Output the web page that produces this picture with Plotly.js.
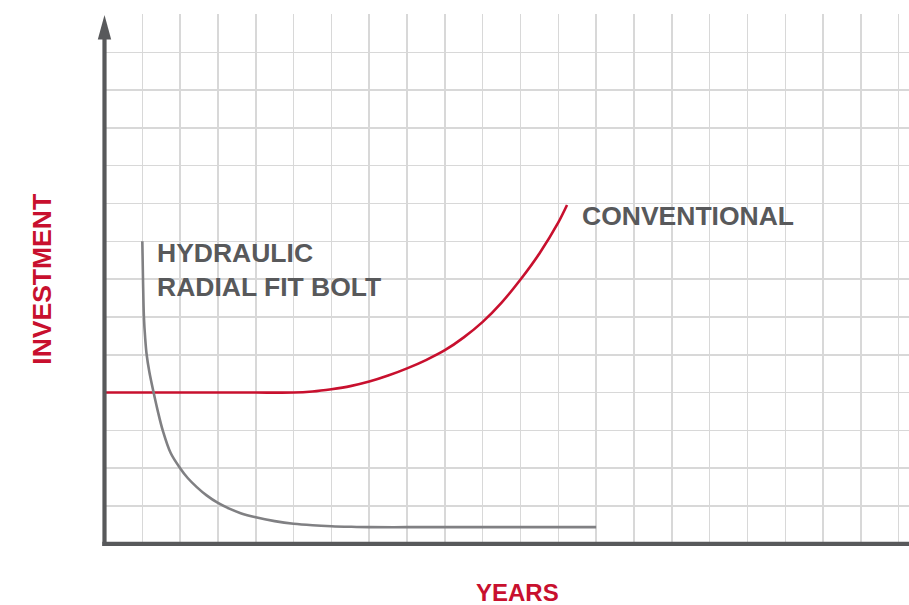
<!DOCTYPE html>
<html>
<head>
<meta charset="utf-8">
<script src="https://cdn.plot.ly/plotly-3.0.1.min.js"></script>
<style>html,body{margin:0;padding:0;background:#fff;}#chart{width:909px;height:605px;}</style>
</head>
<body>
<div id="chart"></div>
<script>
// Data (years vs. investment, arbitrary units)
const conventionalX = [0, 1, 2, 3, 4, 5, 5.5, 6, 6.5, 7, 7.5, 8, 8.5, 9, 9.5, 10, 10.5, 11, 11.5, 12, 12.23];
const conventionalY = [4, 4, 4, 4, 4, 4, 4.03, 4.09, 4.17, 4.29, 4.45, 4.64, 4.86, 5.12, 5.46, 5.87, 6.38, 6.99, 7.68, 8.5, 8.96];

const hydraulicX = [1, 1.018, 1.042, 1.075, 1.115, 1.185, 1.29, 1.40, 1.54, 1.75, 2.0, 2.2, 2.44, 2.7, 3.0, 3.3, 3.6, 4, 4.5, 5, 5.5, 6, 6.5, 7, 8, 9, 10, 11, 12, 13];
const hydraulicY = [8, 7, 6, 5.45, 5, 4.55, 4.04, 3.55, 3, 2.4, 2, 1.74, 1.5, 1.28, 1.08, 0.93, 0.81, 0.70, 0.6, 0.53, 0.49, 0.465, 0.45, 0.44, 0.44, 0.44, 0.44, 0.44, 0.44, 0.44];

const xGridVals = [1,2,3,4,5,6,7,8,9,10,11,12,13,14,15,16,17,18,19,20,21];
const yGridVals = [1,2,3,4,5,6,7,8,9,10,11,12,13];

const seriesNames = ['CONVENTIONAL', 'HYDRAULIC RADIAL FIT BOLT'];
const axisTitles = {x: 'YEARS', y: 'INVESTMENT'};

const RED = '#c8102e';
const GRAY_TEXT = '#58595b';
const AXIS = '#58595b';
const CURVE_GRAY = '#808083';

const traces = [
  {x: conventionalX, y: conventionalY, type: 'scatter', mode: 'lines', name: seriesNames[0],
   line: {color: RED, width: 2.6, shape: 'spline', smoothing: 0.8}},
  {x: hydraulicX, y: hydraulicY, type: 'scatter', mode: 'lines', name: seriesNames[1],
   line: {color: CURVE_GRAY, width: 2.6, shape: 'spline', smoothing: 1.0}}
];

const L = 104, T = 14, B = 61, W = 909, H = 605;
const pw = W - L, ph = H - T - B;
const px = v => (v - L) / pw;
const py = v => (H - B - v) / ph;

const font = {family: 'Liberation Sans, Arial, Helvetica, sans-serif', size: 26.5, weight: 'bold'};

const layout = {
  width: W, height: H,
  margin: {l: L, r: 0, t: T, b: B, pad: 0},
  paper_bgcolor: '#fff', plot_bgcolor: '#fff',
  showlegend: false, hovermode: false,
  xaxis: {range: [-0.0132, 21.272], tickvals: xGridVals, showticklabels: false, ticks: '',
          showgrid: true, gridcolor: '#d8d8d8', gridwidth: 1.5, zeroline: false, showline: false, fixedrange: true},
  yaxis: {range: [-0.0053, 14.013], tickvals: yGridVals, showticklabels: false, ticks: '',
          showgrid: true, gridcolor: '#d8d8d8', gridwidth: 1.5, zeroline: false, showline: false, fixedrange: true},
  shapes: [
    {type: 'line', xref: 'paper', yref: 'paper', x0: px(102.3), x1: 1, y0: py(543.8), y1: py(543.8),
     line: {color: AXIS, width: 4.2}},
    {type: 'line', xref: 'paper', yref: 'paper', x0: px(104.5), x1: px(104.5), y0: py(545.9), y1: py(38),
     line: {color: AXIS, width: 4.2}},
    {type: 'path', xref: 'paper', yref: 'paper',
     path: 'M ' + px(97.8) + ' ' + py(39.5) + ' L ' + px(104.5) + ' ' + py(15) + ' L ' + px(111.2) + ' ' + py(39.5) + ' Z',
     fillcolor: AXIS, line: {color: AXIS, width: 0}}
  ],
  annotations: [
    {text: 'HYDRAULIC<br>RADIAL FIT BOLT', xref: 'paper', yref: 'paper', x: px(157), y: py(270),
     xanchor: 'left', yanchor: 'middle', align: 'left', showarrow: false, borderpad: 0, borderwidth: 0,
     font: Object.assign({}, font, {color: GRAY_TEXT})},
    {text: seriesNames[0], xref: 'paper', yref: 'paper', x: px(581.7), y: py(216.2),
     xanchor: 'left', yanchor: 'middle', align: 'left', showarrow: false, borderpad: 0, borderwidth: 0,
     font: Object.assign({}, font, {color: GRAY_TEXT})},
    {text: axisTitles.y, xref: 'paper', yref: 'paper', x: px(41.7), y: py(279), textangle: -90,
     xanchor: 'center', yanchor: 'middle', showarrow: false, borderpad: 0, borderwidth: 0,
     font: Object.assign({}, font, {color: RED, size: 26.5})},
    {text: axisTitles.x, xref: 'paper', yref: 'paper', x: px(517.5), y: py(592.5),
     xanchor: 'center', yanchor: 'middle', showarrow: false, borderpad: 0, borderwidth: 0,
     font: Object.assign({}, font, {color: RED, size: 24})}
  ]
};

Plotly.newPlot('chart', traces, layout, {staticPlot: true, displayModeBar: false});
</script>
</body>
</html>
